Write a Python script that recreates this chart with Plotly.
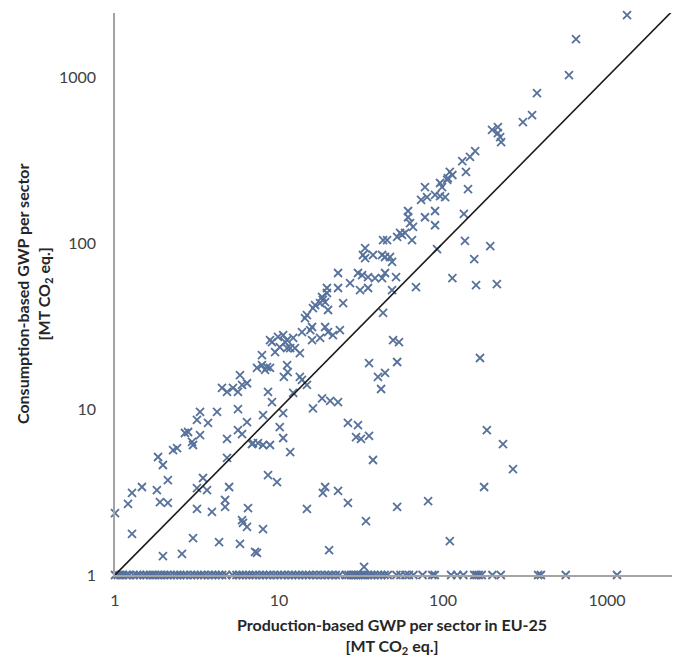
import plotly.graph_objects as go

# Sectors with non-trivial consumption-based GWP (production, consumption) [MT CO2 eq.]
prod = [1.0, 1.2, 1.27, 1.46, 1.27, 1.83, 1.96, 2.26, 2.39, 2.1, 1.8, 1.88, 2.1, 1.96, 2.56, 2.99,
        2.67, 2.79, 2.99, 2.95, 3.3, 3.16, 3.3, 3.69, 4.19, 3.16, 3.44, 3.64, 3.16, 3.9, 4.31, 4.69,
        4.69, 4.96, 4.82, 4.82, 4.49, 4.82, 5.24, 5.62, 5.95, 5.78, 6.38, 5.62, 6.38, 5.62, 5.95, 6.84,
        6.47, 5.95, 6.03, 6.38, 5.78, 7.14, 7.34, 7.87, 8.45, 8.81, 8.22, 7.87, 8.81, 9.46, 9.86, 10.1,
        10.6, 11.2, 12.2, 11.2, 11.7, 12.5, 13.4, 11.2, 11.3, 10.7, 13.4, 13.8, 14.8, 12.2, 8.57, 9.06,
        7.99, 10.6, 10.1, 10.6, 11.7, 6.94, 7.45, 7.99, 8.81, 8.57, 9.72, 7.99, 7.34, 16.1, 18.3, 20.5,
        22.9, 14.8, 14.4, 15.9, 15.5, 19.1, 19.9, 13.8, 17.8, 15.9, 21.3, 23.5, 9.06, 10.9, 19.6, 19.6,
        18.3, 18.5, 17.8, 19.1, 19.9, 16.6, 16.1, 22.9, 22.9, 24.6, 27.1, 30.3, 32.1, 34.9, 38.5, 44.3,
        42.5, 51.7, 31.2, 34.9, 48.9, 33.5, 32.5, 37.4, 33.5, 42.5, 44.3, 47.5, 48.9, 43.1, 45.6, 52.5,
        54.7, 58.7, 64.7, 65.6, 61.2, 61.2, 62.9, 77.6, 89.4, 89.4, 56.2, 73.5, 79.9, 89.4, 95.9, 103,
        77.6, 95.9, 98.6, 110, 114, 107, 106, 131, 146, 157, 138, 142, 134, 199, 216, 216, 223, 226,
        307, 349, 374, 586, 647, 1324, 136, 194, 155, 114, 159, 213, 68.4, 91.9, 43.1, 49.6, 53.9, 35.4,
        52.5, 40.1, 44.3, 41.9, 168, 26.3, 30.3, 29.5, 31.6, 35.4, 37.4, 185, 232, 267, 178, 81.1, 52.5,
        26.3, 33.9, 110, 33, 19.1, 18.5, 22.9, 14.8, 20.2]
cons = [2.36, 2.68, 3.12, 3.39, 1.77, 5.14, 4.6, 5.66, 5.82, 3.73, 3.25, 2.75, 2.72, 1.3, 1.34, 1.67,
        7.17, 7.27, 6.07, 6.33, 6.97, 8.59, 9.6, 8.24, 9.6, 3.34, 3.84, 3.25, 2.5, 2.4, 1.58, 2.57,
        2.83, 3.39, 5.07, 6.6, 13.4, 12.7, 13.4, 12.7, 14.0, 16.0, 14.3, 10.0, 8.35, 7.47, 7.07, 6.15,
        2.53, 2.14, 2.06, 1.95, 1.54, 1.38, 17.7, 18.4, 17.9, 17.7, 17.2, 21.1, 26.0, 22.0, 27.2, 23.6,
        27.9, 26.0, 26.8, 23.3, 23.3, 23.3, 21.7, 18.4, 16.7, 15.6, 15.6, 15.0, 14.0, 12.5, 12.7, 11.0,
        9.2, 9.46, 7.79, 6.69, 5.5, 6.24, 6.24, 6.07, 6.07, 4.0, 3.63, 1.89, 1.36, 10.1, 11.6, 11.2,
        11.0, 36.8, 35.3, 31.2, 29.9, 31.2, 29.1, 29.1, 26.8, 26.0, 27.9, 29.9, 25.3, 25.3, 53.6, 50,
        47.3, 45.4, 43.5, 44.1, 39.5, 42.3, 40.6, 66, 53.6, 43.5, 57.4, 66, 64.1, 62.4, 61.5, 66,
        61.5, 62.4, 52.1, 53.6, 52.1, 93.3, 84.7, 84.7, 81.2, 84.7, 82.4, 82.4, 76.9, 104, 104, 109,
        115, 115, 104, 125, 156, 143, 132, 143, 156, 128, 112, 182, 189, 195, 192, 189,
        217, 230, 217, 268, 257, 246, 240, 312, 330, 358, 268, 211, 150, 480, 500, 460, 435, 406,
        536, 590, 801, 1028, 1694, 2362, 103, 95.9, 80.1, 61.5, 55.8, 56.6, 54.3, 92, 37.9, 26.0, 25.3, 18.9,
        19.2, 15.6, 16.5, 13.2, 20.3, 8.24, 8.01, 6.78, 6.6, 6.88, 4.93, 7.47, 6.15, 4.35, 3.39, 2.79, 2.57,
        2.72, 2.11, 1.6, 1.12, 3.39, 3.12, 3.21, 2.5, 1.41]

# Sectors whose consumption-based GWP sits at the floor value of 1
prod_floor = [1.0, 1.04, 1.08, 1.12, 1.17, 1.22, 1.3, 1.36, 1.42, 1.5, 1.56, 1.63, 1.7, 1.76, 1.84,
              1.92, 2.0, 2.08, 2.18, 2.3, 2.4, 2.5, 2.62, 2.74, 2.9, 3.05, 3.2, 3.35, 3.5, 3.7, 3.9,
              4.1, 4.3, 4.5, 4.75, 5.2, 5.5, 5.75, 6.0, 6.3, 6.6, 6.9, 7.2, 7.6, 8.0, 8.4, 8.8, 9.3,
              9.8, 10.3, 10.8, 11.4, 12.0, 12.6, 13.2, 13.9, 14.6, 15.3, 16.1, 17.0, 18.0, 19.0, 20.0,
              21.0, 22.2, 23.4, 25.5, 26.5, 27.5, 28.5, 29.5, 30.5, 31.5, 32.5, 33.5, 35, 36.5, 38, 40,
              42, 44, 46, 52, 55, 59, 62, 66, 75, 86, 89, 112, 122, 133, 155, 160, 165, 172, 200, 225,
              380, 395, 560, 1150]
cons_floor = [1] * len(prod_floor)

# 1:1 reference line
diag = [1, 2490]

tick_vals = [1, 10, 100, 1000]
tick_text = ["1", "10", "100", "1000"]

marker_color = "#56719B"

fig = go.Figure()
fig.add_trace(go.Scatter(x=prod_floor, y=cons_floor, mode="markers", cliponaxis=False,
                         marker=dict(symbol="x-thin", size=8, color=marker_color,
                                     line=dict(width=1.8, color=marker_color)),
                         hoverinfo="x+y"))
fig.add_trace(go.Scatter(x=prod, y=cons, mode="markers", cliponaxis=False,
                         marker=dict(symbol="x-thin", size=8, color=marker_color,
                                     line=dict(width=1.8, color=marker_color)),
                         hoverinfo="x+y"))
fig.add_trace(go.Scatter(x=diag, y=diag, mode="lines", line=dict(color="#1a1a1a", width=1.6),
                         hoverinfo="skip"))

tickfont = dict(family="Lato", size=16, color="#404040")
axis_common = dict(type="log", showgrid=False, zeroline=False, showline=True,
                   linecolor="#A8A3A3", linewidth=1.5, ticks="",
                   tickvals=tick_vals, ticktext=tick_text, tickfont=tickfont)

fig.update_layout(
    width=679, height=659,
    margin=dict(l=115, r=7, t=13, b=84),
    plot_bgcolor="white", paper_bgcolor="white",
    showlegend=False,
    xaxis=dict(range=[0, 3.396], ticklabelstandoff=10, **axis_common),
    yaxis=dict(range=[0, 3.386], ticklabelstandoff=14, **axis_common),
)

title_font = dict(family="Lato", size=16, color="#262626")
fig.add_annotation(text="<b>Production-based GWP per sector in EU-25<br>[MT CO<sub>2</sub> eq.]</b>",
                   xref="paper", yref="paper", x=0.497, y=-0.1085,
                   xanchor="center", yanchor="middle", showarrow=False, font=title_font)
fig.add_annotation(text="<b>Consumption-based GWP per sector<br>[MT CO<sub>2</sub> eq.]</b>",
                   xref="paper", yref="paper", x=-0.1454, y=0.5, textangle=-90,
                   xanchor="center", yanchor="middle", showarrow=False, font=title_font)

fig.write_html("out.html", config={"displayModeBar": False},
               post_script="document.body.style.margin='0';document.body.style.padding='0';")
